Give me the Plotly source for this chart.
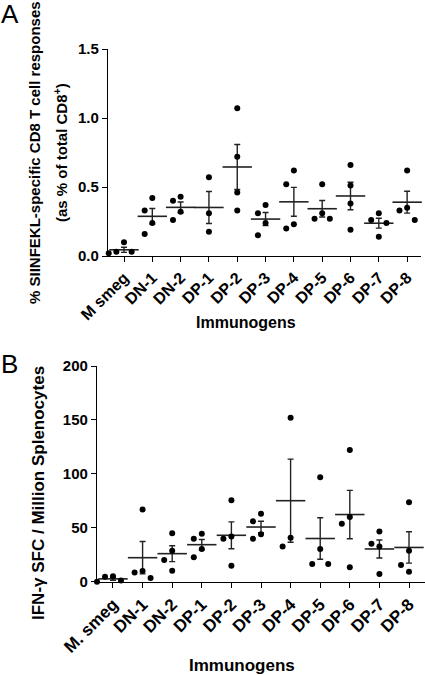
import numpy as np
import plotly.graph_objects as go

# ---------------- data ----------------
categories_a = ["M smeg", "DN-1", "DN-2", "DP-1", "DP-2", "DP-3", "DP-4", "DP-5", "DP-6", "DP-7", "DP-8"]
values_a = [
    [0.03, 0.02, 0.10, 0.03],
    [0.42, 0.33, 0.16, 0.24],
    [0.43, 0.40, 0.26, 0.32],
    [0.57, 0.31, 0.175],
    [1.07, 0.72, 0.46, 0.33],
    [0.37, 0.31, 0.15, 0.24],
    [0.62, 0.52, 0.20, 0.23],
    [0.52, 0.31, 0.27, 0.27],
    [0.66, 0.51, 0.38, 0.19],
    [0.31, 0.26, 0.14, 0.24],
    [0.62, 0.35, 0.26, 0.33],
]
ticks_a = [0, 0.5, 1.0, 1.5]

categories_b = ["M. smeg", "DN-1", "DN-2", "DP-1", "DP-2", "DP-3", "DP-4", "DP-5", "DP-6", "DP-7", "DP-8"]
values_b = [
    [4.5, 1, 5, 0],
    [67, 10, 3.5, 8.5],
    [45, 28.6, 10.2, 20.2],
    [44.4, 39.8, 22.7, 30.4],
    [75.5, 41.9, 39.8, 14.9],
    [63, 56, 39.8, 44],
    [152, 32.6, 40.7],
    [96.8, 30.4, 16.5, 16.5],
    [122, 60, 53.7, 13.4],
    [35.1, 32.6, 7.1, 46.6],
    [73.6, 28.6, 9.3, 15.5],
]
ticks_b = [0, 50, 100, 150, 200]

FONT = "Liberation Sans, Arial, sans-serif"
W, H = 425, 675


def swarm(vals, thresh, d=0.27):
    """Deterministic dot-plot spreading: points that are close in y get side offsets."""
    order = np.argsort(vals)[::-1]
    placed = []  # (offset, value)
    offs = [0.0] * len(vals)
    for i in order:
        v = vals[i]
        for cand in (0.0, -d, d, -2 * d, 2 * d):
            if all(not (abs(o - cand) < 1e-9 and abs(pv - v) < thresh) for o, pv in placed):
                offs[i] = cand
                placed.append((cand, v))
                break
    return offs


def panel_traces(values, thresh, xa, ya):
    xs, ys = [], []
    for k, vals in enumerate(values):
        offs = swarm(vals, thresh)
        xs += [k + o for o in offs]
        ys += list(vals)
    means = [float(np.mean(v)) for v in values]
    sems = [float(np.std(v, ddof=1) / np.sqrt(len(v))) for v in values]
    pts = go.Scatter(
        x=xs, y=ys, mode="markers", xaxis=xa, yaxis=ya,
        marker=dict(symbol="circle", size=6, color="black"),
        cliponaxis=False, showlegend=False, hoverinfo="y",
    )
    mean_tr = go.Scatter(
        x=list(range(len(values))), y=means, mode="markers", xaxis=xa, yaxis=ya,
        marker=dict(symbol="line-ew", size=21, color="#222222",
                    line=dict(width=1.6, color="#222222")),
        error_y=dict(type="data", array=sems, visible=True, width=3,
                     thickness=1.4, color="#222222"),
        cliponaxis=False, showlegend=False, hoverinfo="y",
    )
    return [mean_tr, pts]


fig = go.Figure()
for t in panel_traces(values_a, 0.1, "x", "y"):
    fig.add_trace(t)
for t in panel_traces(values_b, 14, "x2", "y2"):
    fig.add_trace(t)

axis_common = dict(showline=True, linecolor="black", linewidth=1.3, ticks="outside",
                   ticklen=5, tickwidth=1.3, tickcolor="black", showgrid=False,
                   zeroline=False, fixedrange=True, automargin=False)

fig.update_layout(
    width=W, height=H,
    margin=dict(l=0, r=0, t=0, b=0, autoexpand=False),
    paper_bgcolor="white", plot_bgcolor="white",
    font=dict(family=FONT, color="black"),
    xaxis=dict(domain=[108 / W, 421 / W], range=[-0.565, 10.49], anchor="y",
               tickvals=list(range(len(categories_a))), ticktext=categories_a,
               tickangle=-45, tickfont=dict(family=FONT, size=16, color="black", weight="bold"),
               **axis_common),
    yaxis=dict(domain=[1 - 256 / H, 1 - 49 / H], range=[0, 1.5], anchor="x",
               tickvals=ticks_a, tickformat=".1f",
               tickfont=dict(family=FONT, size=15, color="black", weight="bold"),
               **axis_common),
    xaxis2=dict(domain=[97 / W, 1.0], range=[-0.54, 10.54], anchor="y2",
                tickvals=list(range(len(categories_b))), ticktext=categories_b,
                tickangle=-45, tickfont=dict(family=FONT, size=17, color="black", weight="bold"),
                **axis_common),
    yaxis2=dict(domain=[1 - 581.7 / H, 1 - 366 / H], range=[0, 200], anchor="x2",
                tickvals=ticks_b,
                tickfont=dict(family=FONT, size=15, color="black", weight="bold"),
                **axis_common),
)

def ann(text, x, y, size, bold=True, angle=0):
    fig.add_annotation(
        text=f"<b>{text}</b>" if bold else text,
        x=x / W, y=1 - y / H, xref="paper", yref="paper",
        xanchor="center", yanchor="middle", showarrow=False, textangle=angle,
        font=dict(family=FONT, size=size, color="black"),
    )

ann("A", 10, 14, 26, bold=False)
ann("B", 9, 364, 26, bold=False)
ann("% SIINFEKL-specific CD8 T cell responses", 34, 153, 15, angle=-90)
ann("(as % of total CD8<sup>+</sup>)", 60, 153, 15, angle=-90)
ann("Immunogens", 246, 322, 16)
ann("IFN-γ SFC / Million Splenocytes", 38, 493, 17, angle=-90)
ann("Immunogens", 242, 665, 17)

fig.write_html("out.html",
               config={"displayModeBar": False},
               post_script="document.body.style.margin='0';document.body.style.overflow='hidden';")
